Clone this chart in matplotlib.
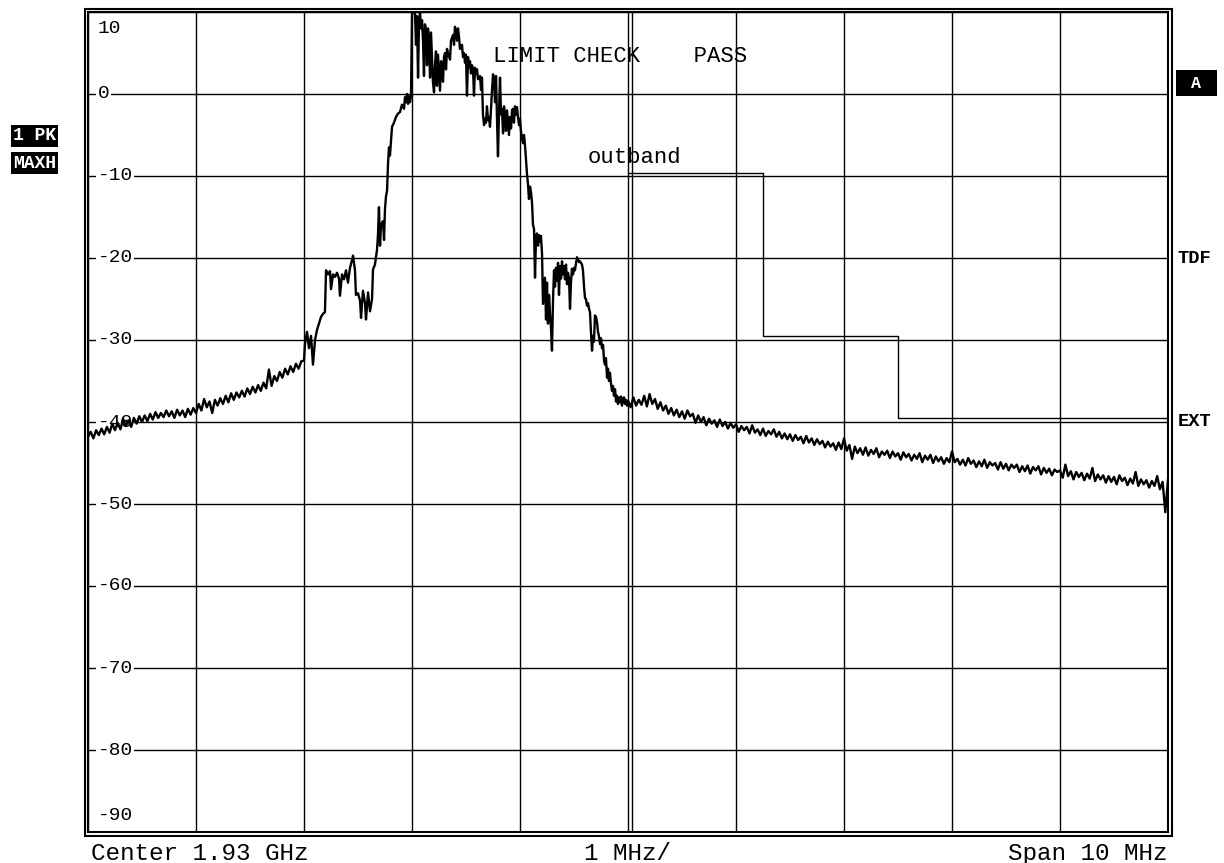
import numpy as np
import matplotlib
matplotlib.use("Agg")
from matplotlib import pyplot as plt
from matplotlib.patches import Rectangle

# trace, low side skirt 0 .. 2 MHz (dBm)
left_levels = [
    -41.8, -41.2, -42.0, -41.0, -41.6, -40.8, -41.5, -40.6,
    -41.3, -40.2, -41.0, -40.1, -40.9, -39.6, -40.5, -39.8,
    -40.6, -39.5, -40.2, -39.3, -40.0, -39.2, -39.9, -39.0,
    -39.7, -38.8, -39.5, -38.9, -39.4, -38.6, -39.3, -38.7,
    -39.5, -38.5, -39.2, -38.6, -39.4, -38.4, -39.1, -38.3,
    -38.9, -37.8, -38.6, -37.2, -38.2, -37.5, -38.9, -37.3,
    -38.0, -37.1, -37.8, -36.8, -37.6, -36.5, -37.3, -36.4,
    -37.0, -36.2, -36.9, -35.9, -36.6, -35.7, -36.4, -35.5,
    -36.2, -35.2, -35.9, -33.6, -35.6, -34.4, -35.0, -33.9,
    -34.6, -33.5, -34.2, -33.2, -33.9, -32.9, -33.5, -32.6,
    -33.2,
]

# trace, signal band 2 .. 5 MHz
mid_freq = [
    2.000, 2.009, 2.028, 2.046, 2.065, 2.083, 2.102, 2.120, 2.139, 2.157,
    2.176, 2.194, 2.204, 2.222, 2.241, 2.250, 2.269, 2.287, 2.306, 2.324,
    2.333, 2.352, 2.370, 2.389, 2.407, 2.426, 2.444, 2.454, 2.472, 2.481,
    2.500, 2.519, 2.528, 2.546, 2.565, 2.574, 2.593, 2.611, 2.630, 2.639,
    2.657, 2.676, 2.685, 2.694, 2.704, 2.713, 2.731, 2.741, 2.750, 2.759,
    2.769, 2.778, 2.787, 2.796, 2.815, 2.833, 2.852, 2.870, 2.889, 2.907,
    2.926, 2.935, 2.944, 2.954, 2.963, 2.972, 2.981, 2.991, 3.000, 3.009,
    3.028, 3.037, 3.046, 3.056, 3.065, 3.074, 3.083, 3.093, 3.102, 3.111,
    3.120, 3.130, 3.139, 3.148, 3.157, 3.167, 3.176, 3.185, 3.194, 3.204,
    3.213, 3.222, 3.231, 3.241, 3.250, 3.259, 3.269, 3.278, 3.287, 3.296,
    3.306, 3.315, 3.324, 3.333, 3.352, 3.361, 3.380, 3.389, 3.398, 3.407,
    3.417, 3.426, 3.435, 3.444, 3.463, 3.472, 3.481, 3.491, 3.500, 3.509,
    3.519, 3.528, 3.537, 3.546, 3.556, 3.565, 3.574, 3.583, 3.593, 3.602,
    3.611, 3.630, 3.639, 3.648, 3.657, 3.667, 3.676, 3.685, 3.694, 3.704,
    3.713, 3.722, 3.731, 3.741, 3.750, 3.759, 3.769, 3.778, 3.787, 3.796,
    3.806, 3.815, 3.824, 3.833, 3.843, 3.852, 3.861, 3.870, 3.880, 3.889,
    3.898, 3.907, 3.917, 3.926, 3.935, 3.944, 3.954, 3.963, 3.972, 3.981,
    3.991, 4.000, 4.009, 4.019, 4.028, 4.037, 4.046, 4.056, 4.065, 4.074,
    4.083, 4.093, 4.102, 4.111, 4.120, 4.130, 4.139, 4.148, 4.157, 4.167,
    4.176, 4.185, 4.194, 4.204, 4.213, 4.222, 4.231, 4.241, 4.250, 4.259,
    4.269, 4.278, 4.287, 4.296, 4.306, 4.315, 4.324, 4.333, 4.343, 4.352,
    4.361, 4.370, 4.380, 4.389, 4.398, 4.407, 4.417, 4.426, 4.435, 4.444,
    4.454, 4.463, 4.472, 4.481, 4.491, 4.500, 4.509, 4.519, 4.528, 4.537,
    4.546, 4.556, 4.574, 4.583, 4.593, 4.602, 4.611, 4.620, 4.630, 4.639,
    4.648, 4.657, 4.667, 4.676, 4.685, 4.694, 4.704, 4.713, 4.722, 4.731,
    4.741, 4.750, 4.759, 4.769, 4.778, 4.787, 4.796, 4.806, 4.815, 4.824,
    4.833, 4.843, 4.852, 4.861, 4.870, 4.880, 4.889, 4.898, 4.907, 4.917,
    4.926, 4.935, 4.944, 4.954, 4.963, 4.972, 4.981, 4.991,
]
mid_levels = [
    -32.5, -30.5, -29.0, -31.0, -29.5, -33.0, -30.0, -28.8, -28.0, -27.2,
    -26.8, -26.6, -21.5, -22.0, -21.6, -23.8, -22.0, -22.3, -21.8, -22.5,
    -24.6, -22.0, -22.6, -21.5, -23.0, -21.2, -20.3, -19.7, -21.5, -24.5,
    -24.3, -25.2, -27.3, -24.0, -25.5, -27.5, -24.2, -26.5, -25.0, -21.4,
    -20.8, -19.0, -17.2, -13.8, -18.5, -16.0, -15.5, -17.8, -14.0, -12.5,
    -11.8, -8.5, -6.5, -7.5, -4.0, -3.5, -2.8, -2.4, -2.2, -1.3,
    -1.8, -0.4, -1.0, 0.0, -1.2, -0.3, -1.0, -0.2, 9.8, 10.0,
    9.9, 6.0, 9.5, 2.0, 8.8, 10.0, 8.0, 9.0, 6.5, 2.2,
    8.5, 7.8, 3.5, 8.0, 6.8, 2.0, 7.5, 4.5, 1.5, 0.2,
    3.5, 5.2, 1.0, 4.8, 2.5, 0.4, 4.0, 3.6, 1.5, 4.5,
    5.0, 3.0, 5.5, 5.0, 4.2, 6.5, 7.2, 6.0, 8.2, 7.5,
    6.5, 8.0, 7.0, 5.5, 6.0, 4.5, 5.0, 3.8, 4.8, -0.2,
    4.5, 3.2, 4.0, 2.5, 3.5, 3.0, -0.2, 3.2, 2.5, 3.0,
    1.8, 2.2, 0.5, 2.0, -2.5, -3.8, -3.0, -3.5, -1.5, -3.2,
    -2.8, -4.0, -2.0, 0.5, 2.4, 2.0, -1.0, 2.2, -3.0, -7.6,
    -2.0, 2.0, -2.5, -1.8, -4.8, -1.5, -2.5, -4.5, -2.0, -3.5,
    -5.0, -2.8, -4.2, -2.0, -1.8, -3.5, -1.5, -2.5, -1.6, -2.8,
    -3.8, -3.0, -4.5, -5.5, -6.0, -5.0, -6.2, -8.0, -9.8, -11.0,
    -12.8, -11.3, -12.0, -13.2, -15.9, -16.5, -22.4, -17.5, -17.0, -18.5,
    -17.2, -18.0, -17.3, -19.5, -25.6, -24.0, -22.4, -27.5, -23.0, -28.0,
    -24.5, -26.8, -28.5, -31.3, -25.0, -21.5, -23.5, -21.2, -22.8, -20.6,
    -24.5, -21.0, -22.5, -20.4, -22.0, -21.0, -22.6, -20.8, -23.2, -21.8,
    -22.5, -26.2, -23.0, -21.3, -22.0, -21.2, -21.5, -20.6, -19.9, -20.2,
    -20.5, -20.4, -20.8, -21.5, -23.5, -24.9, -25.0, -25.8, -25.5, -26.2,
    -26.6, -29.0, -31.3, -29.5, -30.2, -27.0, -27.2, -27.8, -29.0, -29.5,
    -30.5, -29.8, -31.0, -30.6, -32.5, -33.0, -32.2, -34.6, -33.5, -35.0,
    -34.0, -35.4, -36.2, -35.6, -36.8, -36.0, -37.5, -36.8, -37.8, -37.0,
    -37.6, -36.9, -38.0, -37.2, -37.0, -37.8, -37.3, -38.0,
]

# trace, high side skirt 5 .. 10 MHz
right_levels = [
    -37.4, -38.2, -37.0, -38.0, -37.3, -37.9, -36.8, -38.1,
    -36.6, -37.8, -37.2, -38.4, -37.6, -38.6, -38.0, -39.0,
    -38.3, -39.2, -38.5, -39.4, -38.7, -39.6, -38.6, -39.3,
    -39.0, -40.1, -39.2, -40.0, -39.4, -40.4, -39.6, -40.2,
    -39.8, -40.6, -39.7, -40.5, -40.0, -40.8, -40.1, -40.7,
    -40.3, -41.2, -40.5, -41.0, -40.6, -41.4, -40.4, -41.3,
    -40.9, -41.6, -40.8, -41.7, -41.1, -41.5, -40.9, -41.8,
    -41.2, -42.0, -41.4, -42.1, -41.5, -42.3, -41.6, -42.2,
    -41.8, -42.6, -41.7, -42.5, -42.0, -42.8, -42.1, -42.7,
    -42.3, -43.1, -42.4, -43.0, -42.6, -43.4, -42.5, -43.3,
    -42.0, -43.5, -42.8, -44.5, -43.0, -43.8, -43.2, -44.0,
    -43.1, -44.1, -43.4, -43.9, -43.2, -44.3, -43.6, -44.0,
    -43.5, -44.4, -43.6, -44.2, -43.8, -44.6, -43.7, -44.3,
    -43.9, -44.7, -44.0, -44.5, -43.8, -44.9, -44.1, -44.6,
    -44.0, -45.0, -44.2, -44.8, -44.3, -45.1, -44.4, -44.9,
    -43.6, -44.9, -44.5, -45.2, -44.6, -45.3, -44.4, -45.1,
    -44.7, -45.5, -44.8, -45.4, -44.6, -45.6, -44.9, -45.3,
    -45.0, -45.8, -44.9, -45.7, -45.1, -45.9, -45.2, -45.6,
    -45.2, -46.1, -45.4, -46.0, -45.3, -46.3, -45.5, -45.9,
    -45.4, -46.4, -45.6, -46.2, -45.7, -46.5, -45.8, -46.1,
    -45.9, -46.8, -45.2, -46.6, -46.0, -47.0, -46.1, -46.7,
    -46.2, -47.1, -46.3, -46.9, -45.6, -47.2, -46.4, -47.0,
    -46.5, -47.4, -46.6, -47.3, -46.7, -47.6, -46.5, -47.2,
    -46.8, -47.7, -46.9, -47.5, -46.1, -47.8, -47.0, -47.6,
    -47.1, -48.0, -47.2, -47.8, -46.6, -48.2, -47.3, -51.0,
    -47.0,
]

# limit line "outband"
limit_freq = [5.0, 6.25, 6.25, 7.5, 7.5, 10.0]
limit_level = [-9.6, -9.6, -29.5, -29.5, -39.5, -39.5]

y_ticks = [10, 0, -10, -20, -30, -40, -50, -60, -70, -80, -90]

left_freq = np.linspace(0.0, 2.0, len(left_levels))
right_freq = np.linspace(5.0, 10.0, len(right_levels))
freq = np.concatenate([left_freq[:-1], mid_freq, right_freq])
level = np.concatenate([left_levels[:-1], mid_levels, right_levels])

mono = "Liberation Mono"
W, H = 1224, 863
fig = plt.figure(figsize=(W / 100, H / 100), dpi=100)
ax = fig.add_axes([88 / W, 31 / H, 1080 / W, 820 / H])
ax.set_xlim(0, 10)
ax.set_ylim(-90, 10)
ax.set_xticks(range(11))
ax.set_yticks(y_ticks)
ax.tick_params(length=0, labelbottom=False, labelleft=False)
ax.grid(True, color="black", linewidth=1.0)
for s in ax.spines.values():
    s.set_linewidth(1.5)

# second centre line next to the grid line
ax.axvline(5.04, color="black", linewidth=1.0)

ax.plot(limit_freq, limit_level, color="black", linewidth=1.0, zorder=3)
ax.plot(freq, level, color="black", linewidth=1.7, zorder=4)

# outer frame of the double border
fig.add_artist(Rectangle((85 / W, 27.5 / H), 1086.5 / W, 826.5 / H,
                         transform=fig.transFigure, fill=False,
                         edgecolor="black", linewidth=1.5))

# level labels inside the grid (below the trace)
for v in y_ticks:
    yy = v
    if v == 10:
        yy = 8.0
    if v == -90:
        yy = -88.0
    ax.text(0.09, yy, str(v), family=mono, fontsize=14, va="center",
            ha="left", zorder=2.5,
            bbox=dict(facecolor="white", edgecolor="none", pad=1))

ax.text(3.75, 4.6, "LIMIT CHECK    PASS", family=mono, fontsize=16,
        va="center", ha="left", zorder=2.5)
ax.text(4.63, -7.8, "outband", family=mono, fontsize=16, va="center",
        ha="left", zorder=2.5)

# side annotations
box = dict(facecolor="black", edgecolor="none", pad=1.5)
fig.text(13 / W, 1 - 136 / H, "1 PK", family=mono, fontsize=13,
         weight="bold", color="white", va="center", ha="left", bbox=box)
fig.text(13 / W, 1 - 163 / H, "MAXH", family=mono, fontsize=13,
         weight="bold", color="white", va="center", ha="left", bbox=box)
fig.text(1196 / W, 1 - 83 / H, " A ", family=mono, fontsize=12,
         weight="bold", color="white", va="center", ha="center",
         bbox=dict(facecolor="black", edgecolor="none", pad=4))
fig.text(1178 / W, 1 - 258 / H, "TDF", family=mono, fontsize=13.5,
         weight="bold", va="center", ha="left")
fig.text(1178 / W, 1 - 422 / H, "EXT", family=mono, fontsize=13.5,
         weight="bold", va="center", ha="left")

fig.text(91 / W, 1 - 853 / H, "Center 1.93 GHz", family=mono, fontsize=17.5,
         va="center", ha="left")
fig.text(628 / W, 1 - 853 / H, "1 MHz/", family=mono, fontsize=17.5,
         va="center", ha="center")
fig.text(1168 / W, 1 - 853 / H, "Span 10 MHz", family=mono, fontsize=17.5,
         va="center", ha="right")

fig.savefig("out.png", dpi=100)
